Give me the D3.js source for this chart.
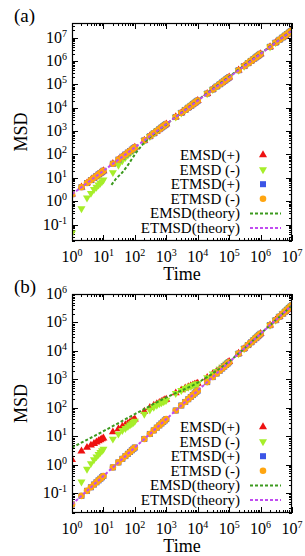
<!DOCTYPE html>
<html>
<head>
<meta charset="utf-8">
<script src="https://cdn.jsdelivr.net/npm/d3@7"></script>
<style>
  body { margin: 0; background: #fff; }
  text { font-family: "Liberation Serif", "DejaVu Serif", serif; fill: #000; }
</style>
</head>
<body>
<svg id="chart" width="305" height="556"></svg>
<script>
// sample times, shared by every series
const times = [1, 2, 3, 4, 5, 6, 7, 8, 9, 10,
  20, 30, 40, 50, 60, 70, 80, 90, 100,
  200, 300, 400, 500, 600, 700, 800, 900, 1e3,
  2e3, 3e3, 4e3, 5e3, 6e3, 7e3, 8e3, 9e3, 1e4,
  2e4, 3e4, 4e4, 5e4, 6e4, 7e4, 8e4, 9e4, 1e5,
  2e5, 3e5, 4e5, 5e5, 6e5, 7e5, 8e5, 9e5, 1e6,
  2e6, 3e6, 4e6, 5e6, 6e6, 7e6, 8e6, 9e6, 1e7]

const xTickExps = [0, 1, 2, 3, 4, 5, 6, 7]
const yTickExpsA = [-1, 0, 1, 2, 3, 4, 5, 6, 7]
const yTickExpsB = [-1, 0, 1, 2, 3, 4, 5, 6]
const legendLabels = ["EMSD(+)", "EMSD (-)", "ETMSD(+)", "ETMSD (-)", "EMSD(theory)", "ETMSD(theory)"]

// panel (a)
const emsdPlusA = [2, 4, 6, 8, 10, 12, 14, 16, 18, 20,
  40, 60, 80, 100, 120, 140, 160, 180, 200,
  400, 600, 800, 1000, 1200, 1400, 1600, 1800, 2000,
  4e3, 6e3, 8e3, 1e4, 1.2e4, 1.4e4, 1.6e4, 1.8e4, 2e4,
  4e4, 6e4, 8e4, 1e5, 1.2e5, 1.4e5, 1.6e5, 1.8e5, 2e5,
  4e5, 6e5, 8e5, 1e6, 1.2e6, 1.4e6, 1.6e6, 1.8e6, 2e6,
  4e6, 6e6, 8e6, 1e7, 1.2e7, 1.4e7, 1.6e7, 1.8e7, 2e7]
const emsdMinusA = [0.045, 0.49, 1.4, 2.2, 3.2, 4, 5, 6, 7, 8.3,
  17, 35, 55, 75, 95, 115, 135, 155, 175,
  390, 590, 790, 990, 1190, 1390, 1590, 1790, 1990,
  4e3, 6e3, 8e3, 1e4, 1.2e4, 1.4e4, 1.6e4, 1.8e4, 2e4,
  4e4, 6e4, 8e4, 1e5, 1.2e5, 1.4e5, 1.6e5, 1.8e5, 2e5,
  4e5, 6e5, 8e5, 1e6, 1.2e6, 1.4e6, 1.6e6, 1.8e6, 2e6,
  4e6, 6e6, 8e6, 1e7, 1.2e7, 1.4e7, 1.6e7, 1.8e7, 2e7]
const etmsdPlusA = [2, 4, 6, 8, 10, 12, 14, 16, 18, 20,
  40, 60, 80, 100, 120, 140, 160, 180, 200,
  400, 600, 800, 1000, 1200, 1400, 1600, 1800, 2000,
  4e3, 6e3, 8e3, 1e4, 1.2e4, 1.4e4, 1.6e4, 1.8e4, 2e4,
  4e4, 6e4, 8e4, 1e5, 1.2e5, 1.4e5, 1.6e5, 1.8e5, 2e5,
  4e5, 6e5, 8e5, 1e6, 1.2e6, 1.4e6, 1.6e6, 1.8e6, 2e6,
  4e6, 6e6, 8e6, 1e7, 1.2e7, 1.4e7, 1.6e7, 1.8e7, 2e7]
const etmsdMinusA = [2, 4, 6, 8, 10, 12, 14, 16, 18, 20,
  40, 60, 80, 100, 120, 140, 160, 180, 200,
  400, 600, 800, 1000, 1200, 1400, 1600, 1800, 2000,
  4e3, 6e3, 8e3, 1e4, 1.2e4, 1.4e4, 1.6e4, 1.8e4, 2e4,
  4e4, 6e4, 8e4, 1e5, 1.2e5, 1.4e5, 1.6e5, 1.8e5, 2e5,
  4e5, 6e5, 8e5, 1e6, 1.2e6, 1.4e6, 1.6e6, 1.8e6, 2e6,
  4e6, 6e6, 8e6, 1e7, 1.2e7, 1.4e7, 1.6e7, 1.8e7, 2e7]
// theory curves as [time, msd] pairs
const emsdTheoryA = [[18, 5], [25, 9], [40, 17], [60, 35], [100, 100], [200, 320], [500, 930], [1e3, 1930], [1e7, 2e7]]
const etmsdTheoryA = [[1, 2], [1e7, 2e7]]

// panel (b)
const emsdPlusB = [1.5, 3, 4, 4.8, 5.5, 6.2, 6.8, 7.4, 8, 8.6,
  14, 18, 22, 25, 28, 31, 34, 37, 40,
  75, 100, 120, 138, 152, 165, 177, 188, 198,
  330, 420, 490, 545, 590, 630, 665, 695, 720,
  1150, 1550, 1920, 2300, 2680, 3060, 3450, 3840, 4200,
  8100, 12100, 16100, 20100, 24100, 28100, 32100, 36100, 40100,
  8.01e4, 1.201e5, 1.601e5, 2.001e5, 2.401e5, 2.801e5, 3.201e5, 3.601e5, 4.001e5]
const emsdMinusB = [null, 0.25, 0.7, 1.1, 1.5, 1.9, 2.3, 2.7, 3.1, 3.5,
  8, 12, 16, 19, 22, 25, 28, 31, 34,
  60, 85, 105, 125, 140, 153, 165, 176, 186,
  320, 410, 480, 535, 580, 620, 655, 685, 710,
  1150, 1550, 1920, 2300, 2680, 3060, 3450, 3840, 4200,
  8100, 12100, 16100, 20100, 24100, 28100, 32100, 36100, 40100,
  8.01e4, 1.201e5, 1.601e5, 2.001e5, 2.401e5, 2.801e5, 3.201e5, 3.601e5, 4.001e5]
const etmsdPlusB = [0.04, 0.08, 0.12, 0.16, 0.2, 0.24, 0.28, 0.32, 0.36, 0.4,
  0.8, 1.2, 1.6, 2, 2.4, 2.8, 3.2, 3.6, 4,
  8, 12, 16, 20, 24, 28, 32, 36, 40,
  80, 120, 160, 200, 240, 280, 320, 360, 400,
  800, 1200, 1600, 2000, 2400, 2800, 3200, 3600, 4000,
  8000, 12000, 16000, 20000, 24000, 28000, 32000, 36000, 40000,
  8e4, 1.2e5, 1.6e5, 2e5, 2.4e5, 2.8e5, 3.2e5, 3.6e5, 4e5]
const etmsdMinusB = [0.04, 0.08, 0.12, 0.16, 0.2, 0.24, 0.28, 0.32, 0.36, 0.4,
  0.8, 1.2, 1.6, 2, 2.4, 2.8, 3.2, 3.6, 4,
  8, 12, 16, 20, 24, 28, 32, 36, 40,
  80, 120, 160, 200, 240, 280, 320, 360, 400,
  800, 1200, 1600, 2000, 2400, 2800, 3200, 3600, 4000,
  8000, 12000, 16000, 20000, 24000, 28000, 32000, 36000, 40000,
  8e4, 1.2e5, 1.6e5, 2e5, 2.4e5, 2.8e5, 3.2e5, 3.6e5, 4e5]
const emsdTheoryB = [[1, 4], [10, 15], [100, 60], [1e3, 230], [1e4, 760], [3e4, 1600], [1e5, 4250], [1e6, 40100], [1e7, 4e5]]
const etmsdTheoryB = [[1, 0.04], [1e7, 4e5]]

const colors = {
  emsdPlus: "#ee1111",
  emsdMinus: "#a6ee2a",
  etmsdPlus: "#3b55e6",
  etmsdMinus: "#ffa510",
  emsdTheory: "#3c9a1e",
  etmsdTheory: "#c04cf0"
}

var svg = d3.select("#chart")

function tickLabel(sel, exp) {
  sel.append("tspan").text("10")
  sel.append("tspan").attr("dy", -6).attr("font-size", 10).text(exp)
}

function drawPanel(o) {
  var left = 72, right = 292
  var x = d3.scaleLog().domain([1, 1e7]).range([left, right])
  var y = d3.scaleLog().domain(o.yDomain).range([o.bottom, o.top])
  var g = svg.append("g")

  var clipId = "clip-" + o.id
  g.append("clipPath").attr("id", clipId)
    .append("rect")
    .attr("x", left).attr("y", o.top)
    .attr("width", right - left).attr("height", o.bottom - o.top)

  // minor + major ticks, mirrored on all four sides
  var ticks = g.append("g").attr("stroke", "#000").attr("stroke-width", 1)
  var xMinor = [], yMinor = []
  for (var k = 0; k < 7; k++) for (var m = 2; m <= 9; m++) xMinor.push(m * Math.pow(10, k))
  var lo = Math.floor(Math.log10(o.yDomain[0])), hi = Math.ceil(Math.log10(o.yDomain[1]))
  for (var k = lo; k < hi; k++) for (var m = 2; m <= 9; m++) {
    var v = m * Math.pow(10, k)
    if (v > o.yDomain[0] && v < o.yDomain[1]) yMinor.push(v)
  }
  function vTicks(vals, len) {
    vals.forEach(v => {
      var px = Math.round(x(v)) + 0.5
      ticks.append("line").attr("x1", px).attr("x2", px).attr("y1", o.bottom).attr("y2", o.bottom - len)
      ticks.append("line").attr("x1", px).attr("x2", px).attr("y1", o.top).attr("y2", o.top + len)
    })
  }
  function hTicks(vals, len) {
    vals.forEach(v => {
      var py = Math.round(y(v)) + 0.5
      ticks.append("line").attr("y1", py).attr("y2", py).attr("x1", left).attr("x2", left + len)
      ticks.append("line").attr("y1", py).attr("y2", py).attr("x1", right).attr("x2", right - len)
    })
  }
  vTicks(xMinor, 3)
  vTicks(xTickExps.map(e => Math.pow(10, e)), 6)
  hTicks(yMinor, 3)
  hTicks(o.yTickExps.map(e => Math.pow(10, e)), 6)

  g.append("g").selectAll("text").data(xTickExps).enter().append("text")
    .attr("x", d => x(Math.pow(10, d)))
    .attr("y", o.bottom + 21)
    .attr("text-anchor", "middle")
    .attr("font-size", 16)
    .each(function(d) { tickLabel(d3.select(this), d) })

  g.append("g").selectAll("text").data(o.yTickExps).enter().append("text")
    .attr("x", left - 5)
    .attr("y", d => y(Math.pow(10, d)) + 5)
    .attr("text-anchor", "end")
    .attr("font-size", 16)
    .each(function(d) { tickLabel(d3.select(this), d) })

  g.append("text").attr("x", 182).attr("y", o.bottom + 39)
    .attr("text-anchor", "middle").attr("font-size", 18).text("Time")
  g.append("text")
    .attr("transform", "translate(27," + ((o.top + o.bottom) / 2) + ") rotate(-90)")
    .attr("text-anchor", "middle").attr("font-size", 18).text("MSD")
  g.append("text").attr("x", 14).attr("y", o.top - 1).attr("font-size", 19).text(o.name)

  var plot = g.append("g").attr("clip-path", "url(#" + clipId + ")")
  var pts = vals => times.map((t, i) => [t, vals[i]]).filter(d => d[1] != null)

  var triUp = d3.symbol().type(d3.symbolTriangle).size(28)
  plot.append("g").selectAll("path").data(pts(o.emsdPlus)).enter().append("path")
    .attr("d", triUp)
    .attr("transform", d => "translate(" + x(d[0]) + "," + y(d[1]) + ")")
    .attr("fill", colors.emsdPlus)
  plot.append("g").selectAll("path").data(pts(o.emsdMinus)).enter().append("path")
    .attr("d", triUp)
    .attr("transform", d => "translate(" + x(d[0]) + "," + y(d[1]) + ") rotate(180)")
    .attr("fill", colors.emsdMinus)
  plot.append("g").selectAll("rect").data(pts(o.etmsdPlus)).enter().append("rect")
    .attr("x", d => x(d[0]) - 3).attr("y", d => y(d[1]) - 3)
    .attr("width", 6).attr("height", 6)
    .attr("fill", colors.etmsdPlus)
  plot.append("g").selectAll("circle").data(pts(o.etmsdMinus)).enter().append("circle")
    .attr("cx", d => x(d[0])).attr("cy", d => y(d[1])).attr("r", 3.3)
    .attr("fill", colors.etmsdMinus)

  var line = d3.line().x(d => x(d[0])).y(d => y(d[1])).curve(d3.curveMonotoneX)
  plot.append("path").datum(o.emsdTheory).attr("d", line)
    .attr("fill", "none").attr("stroke", colors.emsdTheory)
    .attr("stroke-width", 2).attr("stroke-dasharray", "3,2")
  plot.append("path").datum(o.etmsdTheory).attr("d", line)
    .attr("fill", "none").attr("stroke", colors.etmsdTheory)
    .attr("stroke-width", 2).attr("stroke-dasharray", "3,2")

  g.append("rect")
    .attr("x", left + 0.5).attr("y", o.top + 0.5)
    .attr("width", right - left - 1).attr("height", o.bottom - o.top - 1)
    .attr("fill", "none").attr("stroke", "#000").attr("stroke-width", 1.2)

  // legend
  var leg = g.append("g")
  legendLabels.forEach((label, i) => {
    var ly = o.bottom - 86 + i * 14.6
    leg.append("text").attr("x", 240).attr("y", ly + 5)
      .attr("text-anchor", "end").attr("font-size", 15).text(label)
  })
  var sx = 263, ly0 = o.bottom - 86
  leg.append("path").attr("d", triUp).attr("transform", "translate(" + sx + "," + ly0 + ")").attr("fill", colors.emsdPlus)
  leg.append("path").attr("d", triUp).attr("transform", "translate(" + sx + "," + (ly0 + 14.6) + ") rotate(180)").attr("fill", colors.emsdMinus)
  leg.append("rect").attr("x", sx - 3).attr("y", ly0 + 29.2 - 3).attr("width", 6).attr("height", 6).attr("fill", colors.etmsdPlus)
  leg.append("circle").attr("cx", sx).attr("cy", ly0 + 43.8).attr("r", 3.3).attr("fill", colors.etmsdMinus)
  leg.append("line").attr("x1", 250).attr("x2", 281).attr("y1", ly0 + 58.4).attr("y2", ly0 + 58.4)
    .attr("stroke", colors.emsdTheory).attr("stroke-width", 2).attr("stroke-dasharray", "3,2")
  leg.append("line").attr("x1", 250).attr("x2", 281).attr("y1", ly0 + 73).attr("y2", ly0 + 73)
    .attr("stroke", colors.etmsdTheory).attr("stroke-width", 2).attr("stroke-dasharray", "3,2")
}

drawPanel({
  id: "a", name: "(a)", top: 23, bottom: 241,
  yDomain: [Math.pow(10, -1.7), Math.pow(10, 7.62)], yTickExps: yTickExpsA,
  emsdPlus: emsdPlusA, emsdMinus: emsdMinusA, etmsdPlus: etmsdPlusA, etmsdMinus: etmsdMinusA,
  emsdTheory: emsdTheoryA, etmsdTheory: etmsdTheoryA
})
drawPanel({
  id: "b", name: "(b)", top: 294, bottom: 513,
  yDomain: [Math.pow(10, -1.7), 1e6], yTickExps: yTickExpsB,
  emsdPlus: emsdPlusB, emsdMinus: emsdMinusB, etmsdPlus: etmsdPlusB, etmsdMinus: etmsdMinusB,
  emsdTheory: emsdTheoryB, etmsdTheory: etmsdTheoryB
})
</script>
</body>
</html>
